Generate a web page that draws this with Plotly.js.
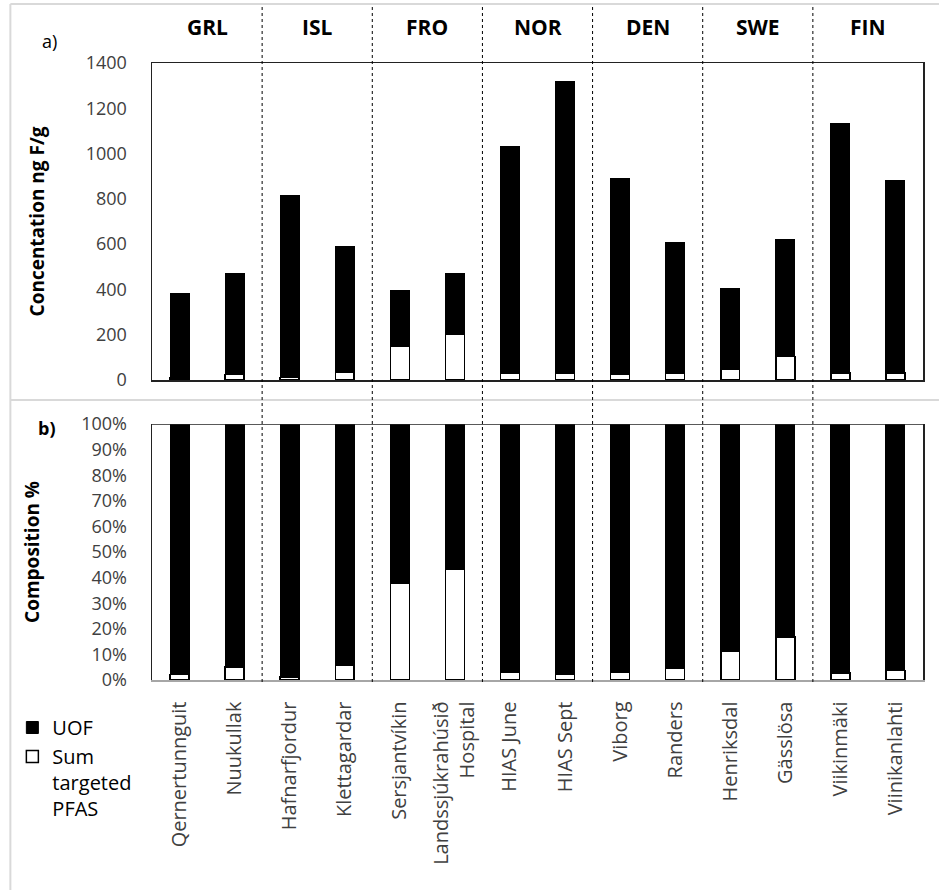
<!DOCTYPE html>
<html><head><meta charset="utf-8">
<script src="https://cdn.plot.ly/plotly-3.0.1.min.js"></script>
<style>html,body{margin:0;padding:0;background:#fff}#chart{width:939px;height:890px}</style>
</head><body><div id="chart"></div>
<script>
const sites = ['Qernertunnguit','Nuukullak','Hafnarfjordur','Klettagardar','Sersjantvíkin','Landssjúkrahúsið<br>Hospital','HIAS June','HIAS Sept','Viborg','Randers','Henriksdal','Gässlösa','Viikinmäki','Viinikanlahti'];
const countries = ['GRL','ISL','FRO','NOR','DEN','SWE','FIN'];
const sumPFAS = [8,24,10,35,149,204,30,28,27,28,46,104,30,32];
const uof = [375,445,805,556,245,266,1002,1289,863,578,358,517,1104,848];
const concTicks = [0,200,400,600,800,1000,1200,1400];

const pctSum = sumPFAS.map((s,i)=>100*s/(s+uof[i]));
const pctUof = uof.map((u,i)=>100*u/(u+sumPFAS[i]));

const W=939,H=890,L=150,R=16,T=63,B=210;
const pw=W-L-R, ph=H-T-B;
const px=x=>(x-L)/pw, py=y=>(H-B-y)/ph;

const tickFont={family:'Open Sans, sans-serif',size:18,color:'#404040'};
const catFont={family:'Open Sans, sans-serif',size:20,color:'#404040'};
const titleFont={family:'Open Sans, sans-serif',size:19,color:'#000'};

const sumStyle={color:'#ffffff',line:{color:'#000',width:1.5}};
const uofStyle={color:'#000000',line:{color:'#000',width:1}};

const traces=[
 {type:'bar',name:'Sum<br>targeted<br>PFAS',x:sites,y:sumPFAS,xaxis:'x',yaxis:'y',marker:sumStyle,legendgroup:'s'},
 {type:'bar',name:'UOF',x:sites,y:uof,xaxis:'x',yaxis:'y',marker:uofStyle,legendgroup:'u'},
 {type:'bar',name:'Sum targeted PFAS',x:sites,y:pctSum,xaxis:'x2',yaxis:'y2',marker:sumStyle,showlegend:false,legendgroup:'s'},
 {type:'bar',name:'UOF',x:sites,y:pctUof,xaxis:'x2',yaxis:'y2',marker:uofStyle,showlegend:false,legendgroup:'u'}
];

const shapes=[];
shapes.push({type:'line',xref:'paper',yref:'paper',x0:px(8),x1:px(8),y0:py(4),y1:py(890),line:{color:'#d9d9d9',width:2}});
shapes.push({type:'line',xref:'paper',yref:'paper',x0:px(8),x1:px(939),y0:py(4),y1:py(4),line:{color:'#d9d9d9',width:2}});
shapes.push({type:'line',xref:'paper',yref:'paper',x0:px(8),x1:px(939),y0:py(400),y1:py(400),line:{color:'#d9d9d9',width:2}});
[1.5,3.5,5.5,7.5,9.5,11.5].forEach(v=>{
  shapes.push({type:'line',xref:'x',yref:'paper',x0:v,x1:v,y0:py(682),y1:py(6),line:{color:'#000',width:1,dash:'3px,3px'}});
});
shapes.push({type:'line',xref:'paper',yref:'y2',x0:0,x1:1,y0:100,y1:100,line:{color:'#222',width:1.5}});

const annotations=[];
countries.forEach((c,i)=>{
  annotations.push({xref:'x',yref:'paper',x:2*i+0.5,y:py(27),text:'<b>'+c+'</b>',showarrow:false,
    font:{family:'Open Sans, sans-serif',size:21,color:'#000'},xanchor:'center',yanchor:'middle'});
});
annotations.push({xref:'paper',yref:'paper',x:px(38),y:py(27),text:'a)',showarrow:false,font:{family:'Open Sans, sans-serif',size:18,color:'#000'}});
annotations.push({xref:'paper',yref:'paper',x:px(34),y:py(428),text:'<b>b)</b>',showarrow:false,font:{family:'Open Sans, sans-serif',size:18,color:'#000'}});

const layout={
  width:W,height:H,margin:{l:L,r:R,t:T,b:B},
  paper_bgcolor:'#fff',plot_bgcolor:'#fff',
  barmode:'stack',bargap:0.656,
  showlegend:true,
  legend:{x:px(10),y:py(708),xanchor:'left',yanchor:'top',traceorder:'reversed',valign:'top',
    font:{family:'Open Sans, sans-serif',size:20,color:'#000'},bgcolor:'rgba(0,0,0,0)',itemwidth:30,tracegroupgap:8},
  xaxis:{domain:[0,1],anchor:'y',type:'category',range:[-0.5,13.5],showticklabels:false,
    showline:true,linecolor:'#222',linewidth:1.5,mirror:true,showgrid:false,ticks:'',zeroline:false},
  yaxis:{domain:[py(380),1],anchor:'x',range:[0,1400],tickvals:concTicks,showgrid:false,zeroline:false,
    showline:true,linecolor:'#222',linewidth:1.5,mirror:true,ticks:'',ticklabelstandoff:20,tickfont:tickFont,
    title:{text:'<b>Concentation ng F/g</b>',font:titleFont,standoff:36}},
  xaxis2:{domain:[0,1],anchor:'y2',type:'category',range:[-0.5,13.5],tickangle:-90,tickfont:catFont,
    showline:true,linecolor:'#a6a6a6',linewidth:1.5,mirror:false,showgrid:false,ticks:'',ticklabelstandoff:12,zeroline:false},
  yaxis2:{domain:[0,py(424)],anchor:'x2',range:[0,100],dtick:10,ticksuffix:'%',showgrid:false,zeroline:false,
    showline:true,linecolor:'#222',linewidth:1.5,mirror:true,ticks:'',ticklabelstandoff:20,tickfont:tickFont,
    title:{text:'<b>Composition %</b>',font:titleFont,standoff:36}},
  shapes:shapes,annotations:annotations
};
Plotly.newPlot('chart',traces,layout,{displayModeBar:false,staticPlot:true});
</script></body></html>
